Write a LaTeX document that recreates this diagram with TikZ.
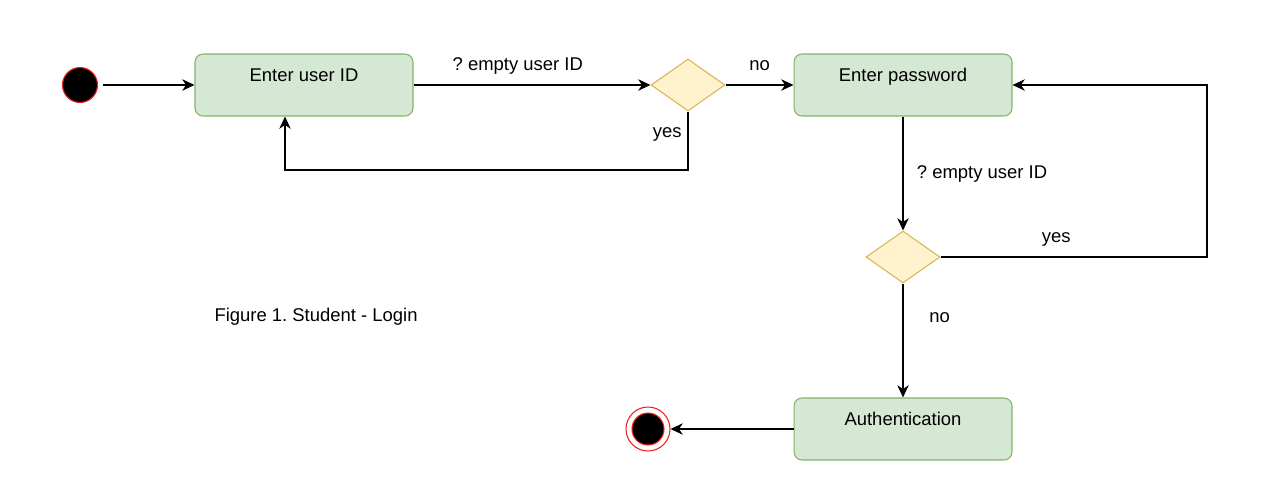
\documentclass[tikz,border=0pt]{standalone}
\usepackage{fontspec}
\setmainfont{Liberation Sans}
\usepackage{tikz}
\usetikzlibrary{arrows,arrows.meta,shapes.geometric,calc}
\definecolor{actfill}{HTML}{D5E8D4}
\definecolor{actline}{HTML}{82B366}
\definecolor{decfill}{HTML}{FFF2CC}
\definecolor{decline}{HTML}{D6B656}
\definecolor{pinred}{HTML}{F01E1E}
\frenchspacing

\begin{document}
\begin{tikzpicture}[x=0.02cm, y=-0.02cm, ->, >={Stealth[length=7pt,width=6.5pt,inset=2.2pt]},
    semithick, font=\fontsize{10.5}{12.6}\selectfont,
    action/.style={draw=actline, fill=actfill, rounded corners=0.16cm, minimum width=4.36cm,
      minimum height=1.24cm, inner sep=0pt, text height=0.28cm, text depth=0.44cm},
    decision/.style={diamond, draw=decline, fill=decfill, minimum width=1.48cm,
      minimum height=1.04cm, inner sep=0pt},
    startpin/.style={circle, draw=pinred, fill=black, minimum size=0.7cm, inner sep=0pt},
    stopring/.style={circle, draw=pinred, fill=white, minimum size=0.88cm, inner sep=0pt},
    stopdot/.style={circle, draw=pinred, fill=black, minimum size=0.64cm, inner sep=0pt},
    lbl/.style={text height=0.26cm, text depth=0.07cm}]
    \useasboundingbox (0,0) rectangle (1287,501);

    \node[startpin] (start) at (80,85) {};
    \node[action] (uid) at (304,85) {Enter user ID};
    \node[decision] (d1) at (688,85) {};
    \node[action] (pwd) at (903,85) {Enter password};
    \node[decision] (d2) at (903,257) {};
    \node[action] (auth) at (903,429) {Authentication};
    \node[stopring] (stop) at (648,429) {};
    \node[stopdot] (stopin) at (stop) {};
    \node[anchor=west, inner sep=0pt] (caption) at (214,317) {Figure 1. Student - Login};
    \coordinate (c1) at (285,170);
    \coordinate (c2) at (1207,257);

    \path (start) edge[shorten <=0.1cm] (uid);
    \path (uid) edge node[lbl, above=0.1cm, pos=0.44] {? empty user ID} (d1);
    \path (d1) edge node[lbl, above=0.1cm] {no} (pwd);
    \draw (d1.south) |- (c1) node[lbl, left, pos=0.18] {yes} -- (c1 |- uid.south);
    \path (pwd) edge node[lbl, right=0.15cm] {? empty user ID} (d2);
    \draw (d2.east) -- node[lbl, above=0.1cm, pos=0.434] {yes} (c2) |- (pwd.east);
    \path (d2) edge node[lbl, right=0.4cm, pos=0.3] {no} (auth);
    \path (auth) edge (stop);
\end{tikzpicture}
\end{document}
